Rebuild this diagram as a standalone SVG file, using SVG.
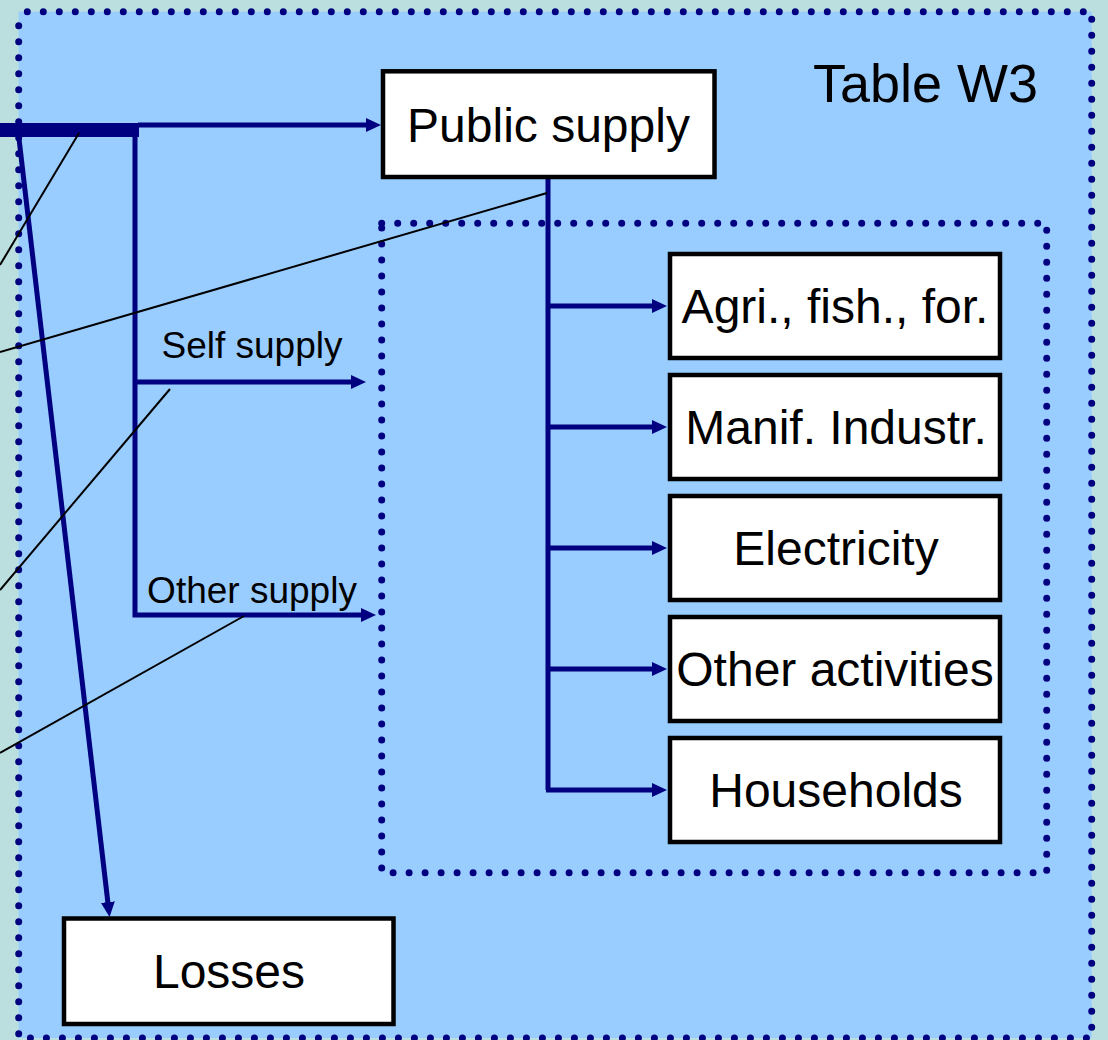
<svg xmlns="http://www.w3.org/2000/svg" width="1108" height="1040" viewBox="0 0 1108 1040">
  <style>
    .frame { fill: none; stroke: #000080; stroke-width: 7; stroke-linecap: round; stroke-dasharray: 0 16; }
    .flow { fill: none; stroke: #000080; stroke-width: 5; }
    .lead { fill: none; stroke: #000000; stroke-width: 2; }
    .box { fill: #FFFFFF; stroke: #000000; stroke-width: 4.5; }
    .label { font-family: "Liberation Sans", Arial, sans-serif; fill: #000000; }
    .big { font-size: 48px; text-anchor: middle; }
    .small { font-size: 37px; text-anchor: middle; }
  </style>
  <defs>
    <marker id="arrow" markerUnits="userSpaceOnUse" markerWidth="16" markerHeight="14" refX="3" refY="7" orient="auto">
      <path d="M0,0 L15,7 L0,14 z" fill="#000080"/>
    </marker>
  </defs>

  <!-- page background and main panel -->
  <rect x="0" y="0" width="1108" height="1040" fill="#BBDFDF"/>
  <rect x="18.7" y="11.7" width="1073" height="1026.3" fill="#99CCFF"/>
  <rect id="outer-frame" class="frame" x="18.7" y="11.7" width="1073" height="1026.3" stroke-dashoffset="-8.6"/>
  <rect id="uses-frame" class="frame" x="381.7" y="223.3" width="665" height="649.4"/>

  <text id="title" class="label" x="813" y="102" font-size="54">Table W3</text>

  <!-- connectors -->
  <g id="connectors">
    <rect x="0" y="123" width="139" height="14" fill="#000080"/>
    <line class="flow" x1="138" y1="125" x2="369" y2="125" marker-end="url(#arrow)"/>
    <polyline class="flow" points="135,135 135,615 364,615" marker-end="url(#arrow)"/>
    <line class="flow" x1="135" y1="382" x2="354" y2="382" marker-end="url(#arrow)"/>
    <line class="flow" x1="18" y1="130" x2="108.2" y2="905.1" marker-end="url(#arrow)"/>
    <line class="flow" x1="548" y1="177" x2="548" y2="790"/>
    <line class="flow" x1="548" y1="306" x2="655" y2="306" marker-end="url(#arrow)"/>
    <line class="flow" x1="548" y1="427" x2="655" y2="427" marker-end="url(#arrow)"/>
    <line class="flow" x1="548" y1="548" x2="655" y2="548" marker-end="url(#arrow)"/>
    <line class="flow" x1="548" y1="669" x2="655" y2="669" marker-end="url(#arrow)"/>
    <line class="flow" x1="546" y1="790" x2="655" y2="790" marker-end="url(#arrow)"/>
    <line class="lead" x1="79" y1="133" x2="0" y2="265"/>
    <line class="lead" x1="547" y1="193" x2="0" y2="352"/>
    <line class="lead" x1="170" y1="389" x2="0" y2="590"/>
    <line class="lead" x1="244" y1="616" x2="0" y2="753"/>
    <text class="label small" x="252" y="358">Self supply</text>
    <text class="label small" x="252" y="603">Other supply</text>
  </g>

  <g id="public-supply">
    <rect class="box" x="383" y="71.3" width="331.5" height="105.7"/>
    <text class="label big" x="548.5" y="141.5">Public supply</text>
  </g>
  <g id="agri">
    <rect class="box" x="670" y="254" width="330" height="104"/>
    <text class="label big" x="835" y="323">Agri., fish., for.</text>
  </g>
  <g id="manif">
    <rect class="box" x="670" y="375" width="330" height="104"/>
    <text class="label big" x="836" y="444">Manif. Industr.</text>
  </g>
  <g id="electricity">
    <rect class="box" x="670" y="496" width="330" height="104"/>
    <text class="label big" x="836" y="565">Electricity</text>
  </g>
  <g id="other-activities">
    <rect class="box" x="670" y="617" width="330" height="104"/>
    <text class="label big" x="835" y="686">Other activities</text>
  </g>
  <g id="households">
    <rect class="box" x="670" y="738" width="330" height="104"/>
    <text class="label big" x="836" y="807">Households</text>
  </g>
  <g id="losses">
    <rect class="box" x="64" y="918.5" width="329.5" height="105.5"/>
    <text class="label big" x="229" y="988">Losses</text>
  </g>
</svg>
